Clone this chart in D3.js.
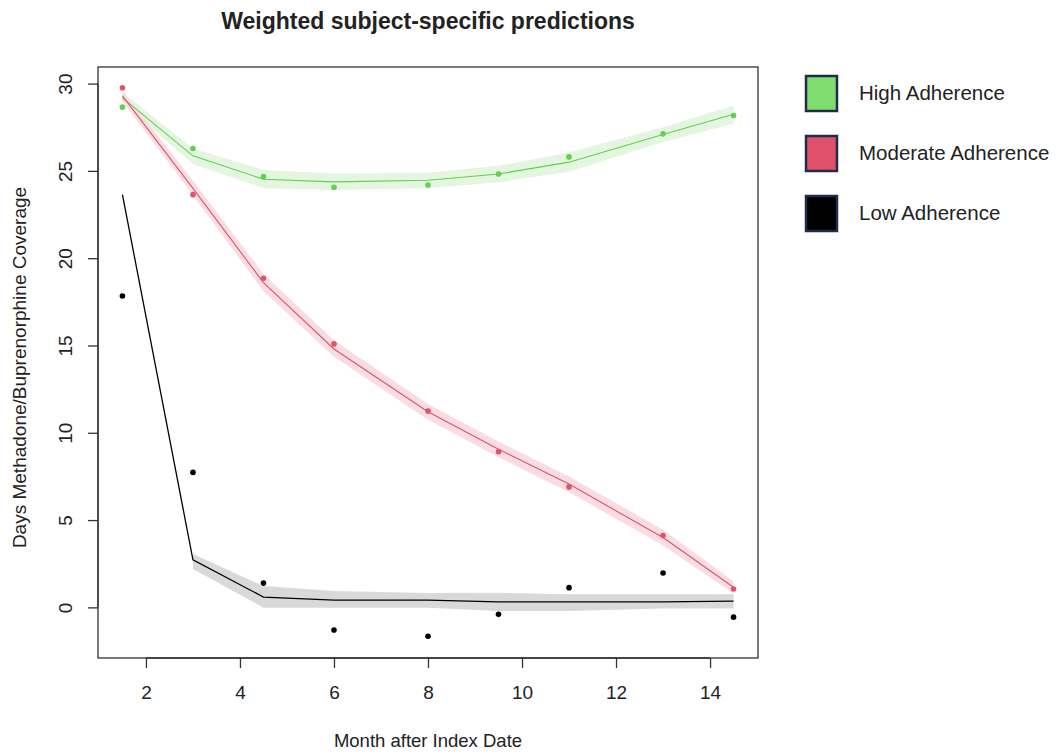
<!DOCTYPE html>
<html>
<head>
<meta charset="utf-8">
<script src="https://cdn.jsdelivr.net/npm/d3@7"></script>
<style>
  body { margin: 0; background: #fff; }
  svg text { font-family: "Liberation Sans", Arial, sans-serif; fill: #222; }
</style>
</head>
<body>
<div id="chart"></div>
<script>
// months after index date
var months = [1.5, 3, 4.5, 6, 8, 9.5, 11, 13, 14.5];

// High adherence
var highObs = [28.65, 26.28, 24.67, 24.06, 24.19, 24.82, 25.8, 27.12, 28.17];
var highFit = [29.18, 25.86, 24.52, 24.37, 24.46, 24.82, 25.5, 27.08, 28.24];
var highLo  = [28.9, 25.4, 24.0, 23.9, 24.0, 24.35, 24.95, 26.65, 27.7];
var highHi  = [29.5, 26.3, 25.05, 24.85, 24.9, 25.3, 26.05, 27.5, 28.75];

// Moderate adherence
var modObs = [29.76, 23.64, 18.85, 15.09, 11.24, 8.91, 6.9, 4.11, 1.05];
var modFit = [29.3, 24.0, 18.6, 14.8, 11.2, 9.06, 7.06, 4.0, 1.15];
var modLo  = [29.0, 23.6, 18.1, 14.35, 10.75, 8.6, 6.6, 3.55, 0.8];
var modHi  = [29.6, 24.45, 19.1, 15.3, 11.65, 9.5, 7.5, 4.45, 1.5];

// Low adherence
var lowObs = [17.83, 7.73, 1.39, -1.3, -1.65, -0.4, 1.13, 1.97, -0.56];
var lowFit = [23.64, 2.72, 0.59, 0.42, 0.42, 0.32, 0.32, 0.32, 0.36];
var lowLo  = [null, 2.2, -0.02, -0.02, -0.02, -0.21, -0.21, -0.07, -0.07];
var lowHi  = [null, 3.05, 1.22, 0.94, 0.83, 0.84, 0.75, 0.75, 0.75];

var xTicks = [2, 4, 6, 8, 10, 12, 14];
var yTicks = [0, 5, 10, 15, 20, 25, 30];

var groups = [
    {name: "High Adherence", obs: highObs, fit: highFit, lo: highLo, hi: highHi, color: "#61D04F", band: "#e4f6e0", key: "#7fdc6f"},
    {name: "Moderate Adherence", obs: modObs, fit: modFit, lo: modLo, hi: modHi, color: "#DF536B", band: "#fadde3", key: "#e05068"},
    {name: "Low Adherence", obs: lowObs, fit: lowFit, lo: lowLo, hi: lowHi, color: "#000000", band: "#d9d9d9", key: "#000000"}
];

var W = 1057, H = 754;
var margin = {left: 98, right: 758, top: 67, bottom: 658};

var svg = d3.select("#chart").append("svg")
    .attr("width", W)
    .attr("height", H);

var x = d3.scaleLinear().domain([0.98, 15.02]).range([margin.left, margin.right]);
var y = d3.scaleLinear().domain([-2.9, 30.95]).range([margin.bottom, margin.top]);

// bands
groups.forEach(function(g) {
    var rows = months.map(function(m, i) { return {m: m, lo: g.lo[i], hi: g.hi[i]}; });
    var area = d3.area()
        .defined(function(d) { return d.lo != null; })
        .x(function(d) { return x(d.m); })
        .y0(function(d) { return y(d.lo); })
        .y1(function(d) { return y(d.hi); });
    svg.append("path")
        .datum(rows)
        .attr("fill", g.band)
        .attr("d", area);
});

// fitted lines
groups.forEach(function(g) {
    var line = d3.line()
        .x(function(d, i) { return x(months[i]); })
        .y(function(d) { return y(d); });
    svg.append("path")
        .datum(g.fit)
        .attr("fill", "none")
        .attr("stroke", g.color)
        .attr("stroke-width", g.color == "#000000" ? 1.3 : 1.1)
        .attr("d", line);
});

// observed points
groups.forEach(function(g) {
    svg.selectAll(null)
        .data(g.obs)
        .enter()
        .append("circle")
        .attr("cx", function(d, i) { return x(months[i]); })
        .attr("cy", function(d) { return y(d); })
        .attr("r", 2.8)
        .attr("fill", g.color);
});

// box
svg.append("rect")
    .attr("x", margin.left).attr("y", margin.top)
    .attr("width", margin.right - margin.left).attr("height", margin.bottom - margin.top)
    .attr("fill", "none")
    .attr("stroke", "#333")
    .attr("stroke-width", 1.3);

// axes, R style
var xAxis = d3.axisBottom(x).tickValues(xTicks).tickSize(10).tickPadding(18).tickSizeOuter(0);
var gx = svg.append("g")
    .attr("transform", "translate(0," + margin.bottom + ")")
    .call(xAxis);
gx.select(".domain").attr("d", "M" + x(2) + ",0H" + x(14)).attr("stroke", "#333").attr("stroke-width", 1.3);
gx.selectAll(".tick line").attr("stroke", "#333").attr("stroke-width", 1.3);
gx.selectAll(".tick text")
    .attr("font-size", 19)
    .attr("font-family", "Liberation Sans, Arial, sans-serif")
    .attr("fill", "#222");

var yAxis = d3.axisLeft(y).tickValues(yTicks).tickSize(10).tickSizeOuter(0);
var gy = svg.append("g")
    .attr("transform", "translate(" + margin.left + ",0)")
    .call(yAxis);
gy.select(".domain").attr("d", "M0," + y(0) + "V" + y(30)).attr("stroke", "#333").attr("stroke-width", 1.3);
gy.selectAll(".tick line").attr("stroke", "#333").attr("stroke-width", 1.3);
gy.selectAll(".tick text")
    .attr("font-size", 19)
    .attr("font-family", "Liberation Sans, Arial, sans-serif")
    .attr("fill", "#222")
    .attr("text-anchor", "middle")
    .attr("dy", null)
    .attr("x", null)
    .attr("transform", "translate(-33,0) rotate(-90)")
    .attr("dominant-baseline", "central");

// title and axis labels
svg.append("text")
    .attr("x", (margin.left + margin.right) / 2)
    .attr("y", 29)
    .attr("text-anchor", "middle")
    .attr("font-size", 23)
    .attr("font-weight", "bold")
    .attr("fill", "#111")
    .text("Weighted subject-specific predictions");

svg.append("text")
    .attr("x", (margin.left + margin.right) / 2)
    .attr("y", 747)
    .attr("text-anchor", "middle")
    .attr("font-size", 18.5)
    .text("Month after Index Date");

svg.append("text")
    .attr("transform", "translate(26," + ((margin.top + margin.bottom) / 2 + 5) + ") rotate(-90)")
    .attr("text-anchor", "middle")
    .attr("font-size", 19)
    .text("Days Methadone/Buprenorphine Coverage");

// legend
var legend = svg.append("g").attr("transform", "translate(806,76)");
groups.forEach(function(g, i) {
    var row = legend.append("g").attr("transform", "translate(0," + (i * 60) + ")");
    row.append("rect")
        .attr("x", 0).attr("y", 0)
        .attr("width", 31).attr("height", 35)
        .attr("fill", g.key)
        .attr("stroke", "#1f2c4c")
        .attr("stroke-width", 2.5);
    row.append("text")
        .attr("x", 53)
        .attr("y", 24)
        .attr("font-size", 20.5)
        .attr("fill", "#111")
        .text(g.name);
});
</script>
</body>
</html>
